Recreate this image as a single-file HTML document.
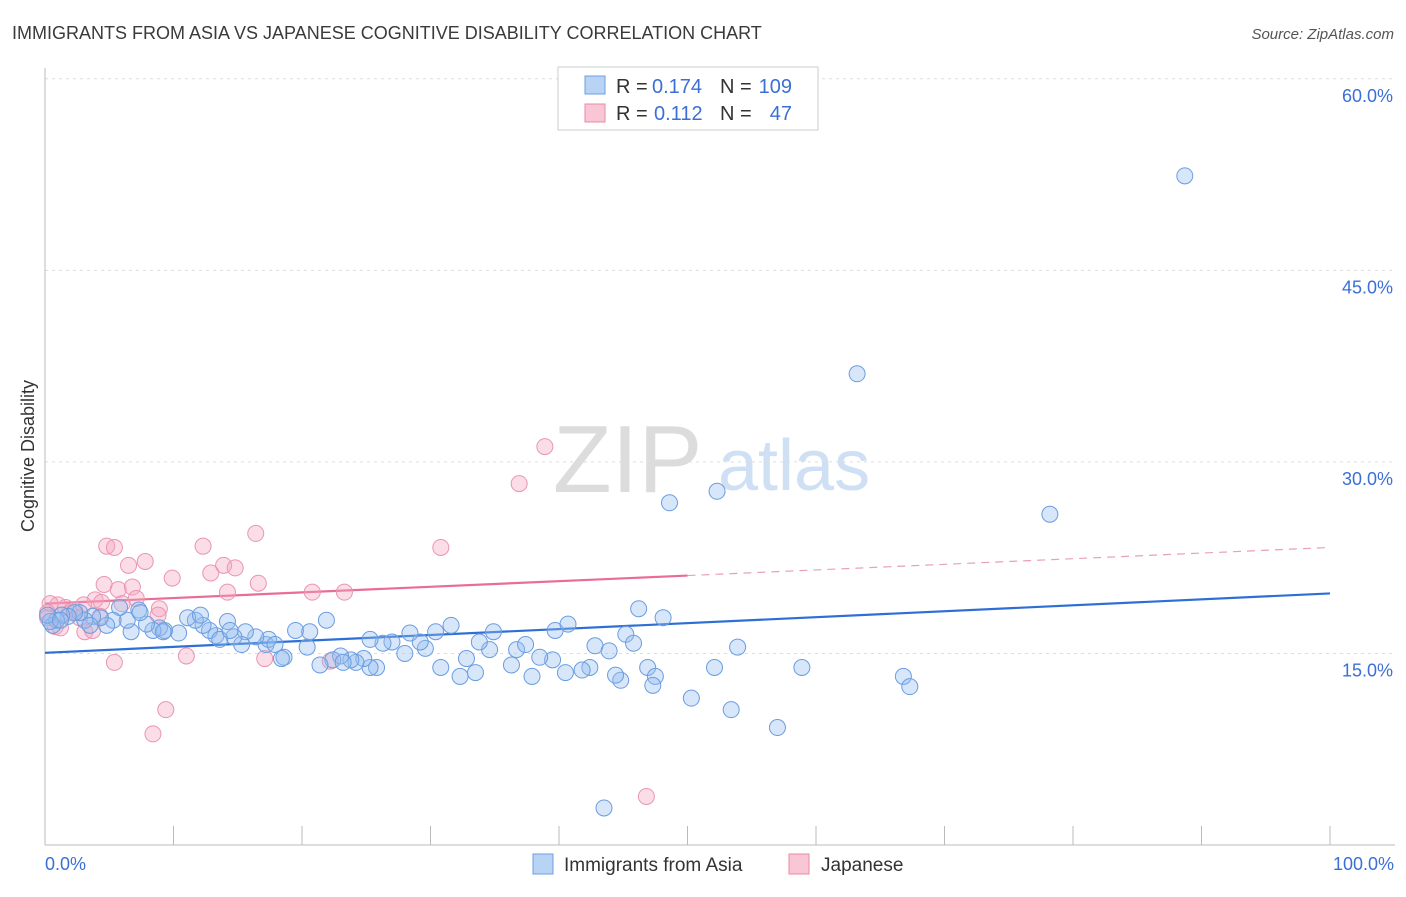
<!DOCTYPE html>
<html><head><meta charset="utf-8"><style>
body{margin:0;background:#fff;font-family:"Liberation Sans",sans-serif}
svg text{font-family:"Liberation Sans",sans-serif}
</style></head><body>
<svg id="chart" width="1406" height="892">
<text x="12" y="39" font-size="18" fill="#3a3a3a">IMMIGRANTS FROM ASIA VS JAPANESE COGNITIVE DISABILITY CORRELATION CHART</text>
<text x="1394" y="39" font-size="15" fill="#555" text-anchor="end" font-style="italic">Source: ZipAtlas.com</text>
<g>
<text x="553" y="492" font-size="96" font-family="Liberation Serif,serif" fill="#dcdcdc">ZIP</text>
<text x="718" y="490" font-size="72" fill="#cfe0f4">atlas</text>
</g>
<g id="grid"></g>
<g id="axes"></g>
<g id="trend"></g>
<g id="pts"></g>
<text transform="translate(34,456) rotate(-90)" font-size="18" fill="#333" text-anchor="middle">Cognitive Disability</text>
<text x="45" y="870" font-size="18" fill="#3b6fd6">0.0%</text>
<text x="1394" y="870" font-size="18" fill="#3b6fd6" text-anchor="end">100.0%</text>
<g>
<rect x="558" y="67" width="260" height="63" fill="#fff" stroke="#ccc"/>
<rect x="585" y="76" width="20" height="18" fill="#b9d3f5" stroke="#6a9fe0"/>
<rect x="585" y="104" width="20" height="18" fill="#f9c6d6" stroke="#e88aa8"/>
<text x="616" y="93" font-size="20" fill="#333">R =</text>
<text x="652" y="93" font-size="20" fill="#3b6fd6">0.174</text>
<text x="720" y="93" font-size="20" fill="#333">N =</text>
<text x="792" y="93" font-size="20" fill="#3b6fd6" text-anchor="end">109</text>
<text x="616" y="120" font-size="20" fill="#333">R =</text>
<text x="654" y="120" font-size="20" fill="#3b6fd6">0.112</text>
<text x="720" y="120" font-size="20" fill="#333">N =</text>
<text x="792" y="120" font-size="20" fill="#3b6fd6" text-anchor="end">47</text>
</g>
<g>
<rect x="533" y="854" width="20" height="20" fill="#b9d3f5" stroke="#6a9fe0"/>
<text x="564" y="871" font-size="19" fill="#333">Immigrants from Asia</text>
<rect x="789" y="854" width="20" height="20" fill="#f9c6d6" stroke="#e88aa8"/>
<text x="821" y="871" font-size="19" fill="#333">Japanese</text>
</g>
</svg>
<script>
const yTicks=[15,30,45,60];
const xTicks=[0,10,20,30,40,50,60,70,80,90,100];
const asiaX=[88.7,63.2,78.2,52.3,48.6,46.2,48.1,45.2,45.8,42.8,43.9,53.9,52.1,58.9,66.8,67.3,50.3,53.4,57.0,43.5,46.9,47.5,47.3,44.8,44.4,42.4,41.8,40.5,39.5,38.5,37.9,36.3,36.7,37.4,34.9,34.6,33.8,32.8,32.3,33.5,30.8,31.6,30.4,29.6,29.2,28.4,28.0,27.0,26.3,25.8,25.3,24.8,24.2,23.8,23.0,22.4,21.4,20.4,19.5,20.6,21.9,18.6,18.4,17.2,17.4,16.4,15.6,15.3,14.7,14.2,13.3,12.8,12.3,11.7,11.1,10.4,9.3,8.9,8.4,7.9,7.3,6.7,6.4,5.8,5.3,4.8,4.3,3.7,3.1,2.7,2.3,1.8,1.3,0.9,0.6,0.4,0.2,9.2,13.6,12.1,7.4,3.5,1.2,17.9,14.4,25.3,23.2,39.7,40.7];
const asiaY=[52.4,36.9,25.9,27.7,26.8,18.5,17.8,16.5,15.8,15.6,15.2,15.5,13.9,13.9,13.2,12.4,11.5,10.6,9.2,2.9,13.9,13.2,12.5,12.9,13.3,13.9,13.7,13.5,14.5,14.7,13.2,14.1,15.3,15.7,16.7,15.3,15.9,14.6,13.2,13.5,13.9,17.2,16.7,15.4,15.9,16.6,15.0,15.9,15.8,13.9,13.9,14.6,14.3,14.5,14.8,14.5,14.1,15.5,16.8,16.7,17.6,14.7,14.6,15.7,16.1,16.3,16.7,15.7,16.3,17.5,16.4,16.8,17.2,17.6,17.8,16.6,16.8,17.0,16.8,17.3,18.4,16.7,17.6,18.6,17.6,17.2,17.8,17.9,17.6,18.2,18.2,17.9,18.0,17.6,17.2,17.5,18.0,16.7,16.1,18.0,18.2,17.2,17.6,15.7,16.8,16.1,14.3,16.8,17.3];
const japX=[38.9,36.9,30.8,16.4,4.8,5.4,7.8,6.5,12.3,13.9,14.8,12.9,9.9,16.6,14.2,4.6,5.7,6.8,7.1,6.0,3.9,4.4,20.8,23.3,8.9,8.8,1.6,1.9,2.3,1.0,0.4,0.2,0.8,3.1,3.7,3.0,4.3,17.1,22.2,11.0,5.4,9.4,8.4,46.8,0.2,1.2,2.7];
const japY=[31.2,28.3,23.3,24.4,23.4,23.3,22.2,21.9,23.4,21.9,21.7,21.3,20.9,20.5,19.8,20.4,20.0,20.2,19.3,18.9,19.2,19.0,19.8,19.8,18.5,18.0,18.6,18.2,18.4,18.8,18.9,18.2,17.1,16.7,16.8,18.8,17.9,14.6,14.4,14.8,14.3,10.6,8.7,3.8,17.8,17.0,17.8];
const asiaTrend=[15.05,19.7];
const japTrend=[18.9,23.3];
const japSolidEnd=50;
const NS="http://www.w3.org/2000/svg";
const X0=45,X1=1330,Y0=845,YPER=12.77;
const sx=v=>X0+(X1-X0)*v/100, sy=v=>Y0-v*YPER;
function mk(tag,attrs,parent){const e=document.createElementNS(NS,tag);for(const k in attrs)e.setAttribute(k,attrs[k]);document.getElementById(parent).appendChild(e);return e;}
yTicks.forEach(t=>{
 const g=mk('line',{x1:X0,x2:1395,y1:sy(t),y2:sy(t),stroke:'#ddd','stroke-dasharray':'3,4'},'grid');
 
 
 const l=mk('text',{x:1393,y:sy(t)+23,'font-size':18,fill:'#3b6fd6','text-anchor':'end'},'grid');
 l.textContent=t.toFixed(1)+'%';
 
 
});
const ax=mk('line',{x1:X0,x2:1395,y1:Y0,y2:Y0,stroke:'#bbb'},'axes');


const ay=mk('line',{x1:X0,x2:X0,y1:68,y2:Y0,stroke:'#bbb'},'axes');


xTicks.forEach(t=>{
 const k=mk('line',{x1:sx(t),x2:sx(t),y1:826,y2:Y0,stroke:'#bbb'},'axes');
 
 
});
const tb=mk('line',{x1:sx(0),x2:sx(100),y1:sy(asiaTrend[0]),y2:sy(asiaTrend[1]),stroke:'#2e6fd6','stroke-width':2.2},'trend');


const jm=japTrend[0]+(japTrend[1]-japTrend[0])*japSolidEnd/100;
const tp=mk('line',{x1:sx(0),x2:sx(japSolidEnd),y1:sy(japTrend[0]),y2:sy(jm),stroke:'#e86d98','stroke-width':2.2},'trend');


const td=mk('line',{x1:sx(japSolidEnd),x2:sx(100),y1:sy(jm),y2:sy(japTrend[1]),stroke:'#e8a0b8','stroke-width':1.2,'stroke-dasharray':'8,6'},'trend');


japX.forEach((x,i)=>{
 const c=mk('circle',{cx:sx(x),cy:sy(japY[i]),r:8,fill:'rgba(245,165,192,0.38)',stroke:'#ea95b1','stroke-width':1},'pts');
 
 
});
asiaX.forEach((x,i)=>{
 const c=mk('circle',{cx:sx(x),cy:sy(asiaY[i]),r:8,fill:'rgba(150,190,240,0.38)',stroke:'#6a9de0','stroke-width':1},'pts');
 
 
});
</script>
</body></html>
